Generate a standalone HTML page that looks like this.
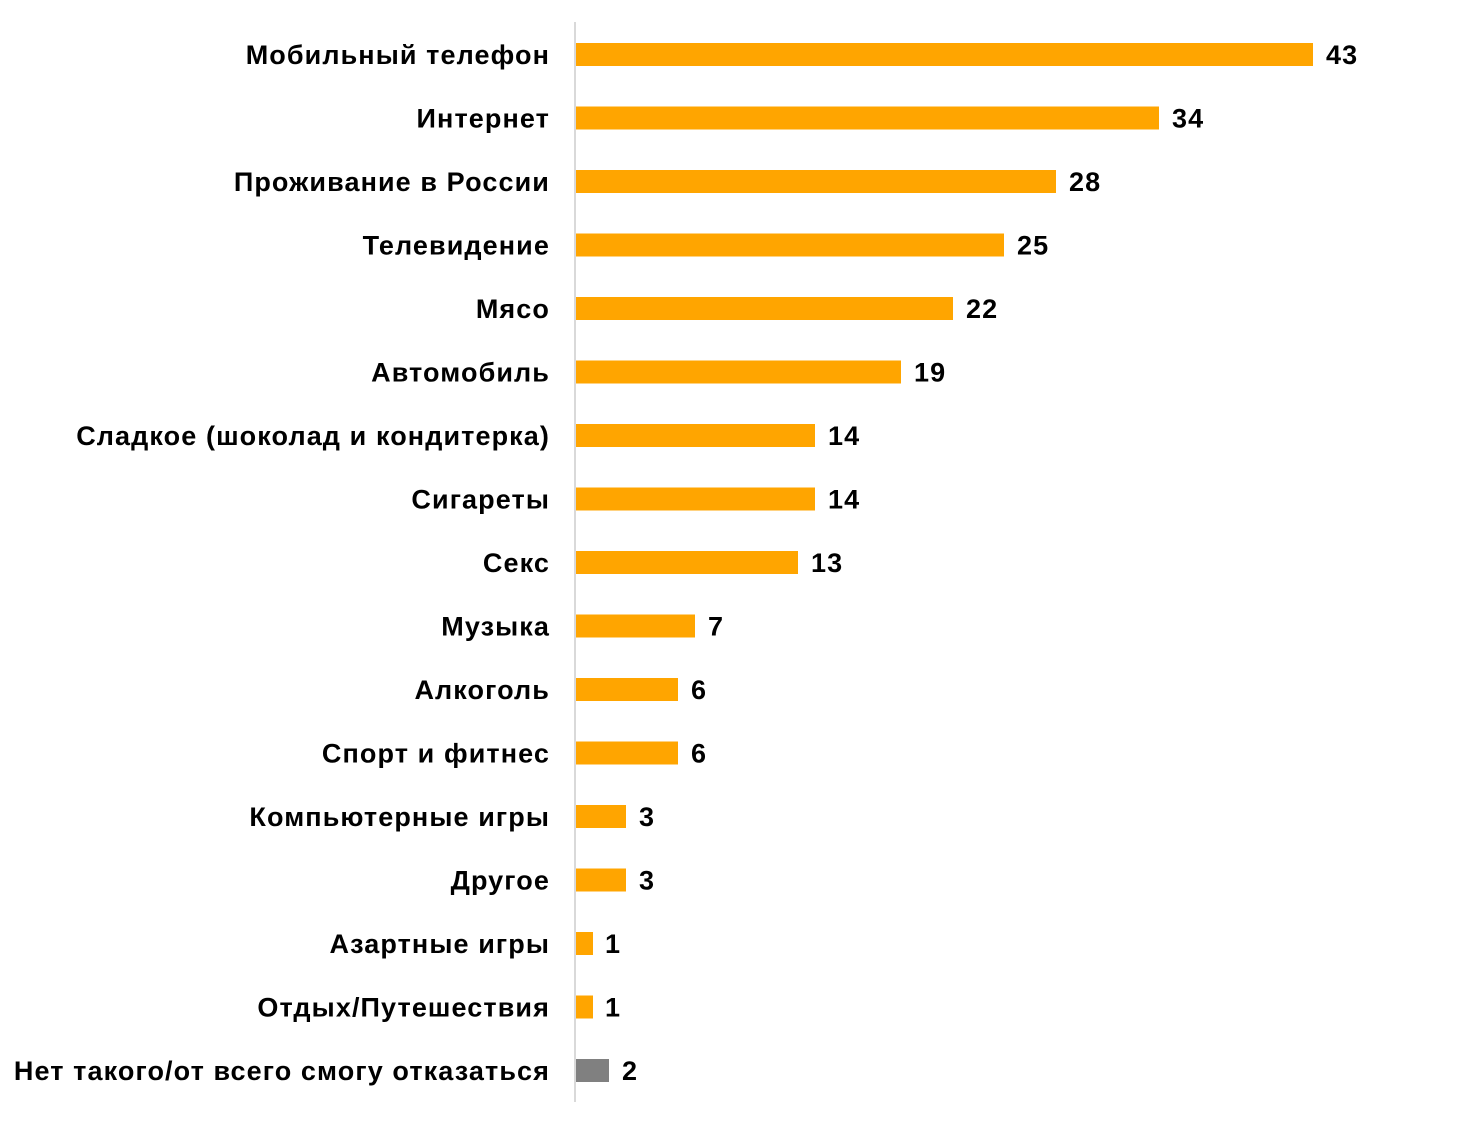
<!DOCTYPE html>
<html><head><meta charset="utf-8"><style>
html,body{margin:0;padding:0;background:#fff;}
text{font-family:"Liberation Sans",Arial,sans-serif;font-weight:bold;font-size:27px;letter-spacing:1.1px;fill:#000;}
</style></head><body>
<svg width="1457" height="1125" xmlns="http://www.w3.org/2000/svg">
<rect x="574" y="22" width="2" height="1080" fill="#d9d9d9"/>
<rect x="576" y="43" width="737" height="23" fill="#FFA500"/><text x="550" y="64" text-anchor="end">Мобильный телефон</text><text x="1326" y="64">43</text>
<rect x="576" y="106.5" width="583" height="23" fill="#FFA500"/><text x="550" y="127.5" text-anchor="end">Интернет</text><text x="1172" y="127.5">34</text>
<rect x="576" y="170" width="480" height="23" fill="#FFA500"/><text x="550" y="191" text-anchor="end">Проживание в России</text><text x="1069" y="191">28</text>
<rect x="576" y="233.5" width="428" height="23" fill="#FFA500"/><text x="550" y="254.5" text-anchor="end">Телевидение</text><text x="1017" y="254.5">25</text>
<rect x="576" y="297" width="377" height="23" fill="#FFA500"/><text x="550" y="318" text-anchor="end">Мясо</text><text x="966" y="318">22</text>
<rect x="576" y="360.5" width="325" height="23" fill="#FFA500"/><text x="550" y="381.5" text-anchor="end">Автомобиль</text><text x="914" y="381.5">19</text>
<rect x="576" y="424" width="239" height="23" fill="#FFA500"/><text x="550" y="445" text-anchor="end">Сладкое (шоколад и кондитерка)</text><text x="828" y="445">14</text>
<rect x="576" y="487.5" width="239" height="23" fill="#FFA500"/><text x="550" y="508.5" text-anchor="end">Сигареты</text><text x="828" y="508.5">14</text>
<rect x="576" y="551" width="222" height="23" fill="#FFA500"/><text x="550" y="572" text-anchor="end">Секс</text><text x="811" y="572">13</text>
<rect x="576" y="614.5" width="119" height="23" fill="#FFA500"/><text x="550" y="635.5" text-anchor="end">Музыка</text><text x="708" y="635.5">7</text>
<rect x="576" y="678" width="102" height="23" fill="#FFA500"/><text x="550" y="699" text-anchor="end">Алкоголь</text><text x="691" y="699">6</text>
<rect x="576" y="741.5" width="102" height="23" fill="#FFA500"/><text x="550" y="762.5" text-anchor="end">Спорт и фитнес</text><text x="691" y="762.5">6</text>
<rect x="576" y="805" width="50" height="23" fill="#FFA500"/><text x="550" y="826" text-anchor="end">Компьютерные игры</text><text x="639" y="826">3</text>
<rect x="576" y="868.5" width="50" height="23" fill="#FFA500"/><text x="550" y="889.5" text-anchor="end">Другое</text><text x="639" y="889.5">3</text>
<rect x="576" y="932" width="17" height="23" fill="#FFA500"/><text x="550" y="953" text-anchor="end">Азартные игры</text><text x="605" y="953">1</text>
<rect x="576" y="995.5" width="17" height="23" fill="#FFA500"/><text x="550" y="1016.5" text-anchor="end">Отдых/Путешествия</text><text x="605" y="1016.5">1</text>
<rect x="576" y="1059" width="33" height="23" fill="#808080"/><text x="550" y="1080" text-anchor="end">Нет такого/от всего смогу отказаться</text><text x="622" y="1080">2</text>
</svg>
</body></html>
